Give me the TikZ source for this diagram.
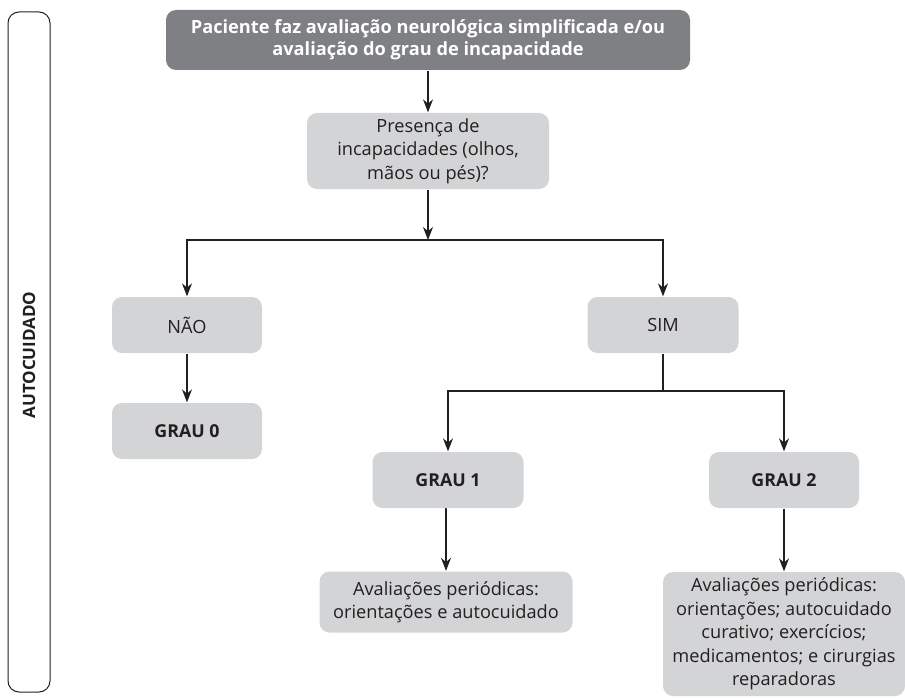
\documentclass[tikz,border=0pt]{standalone}
\usepackage{fontspec}
\setmainfont{Open Sans}
\usetikzlibrary{arrows.meta}
\definecolor{boxgray}{HTML}{D3D4D6}
\definecolor{headgray}{HTML}{7F8083}
\definecolor{ink}{HTML}{231F20}
\begin{document}
\begin{tikzpicture}
  [x=1pt,y=-1pt,line width=1.3pt,draw=ink,>={Stealth[length=13pt,width=10pt]},
   every node/.style={rounded corners=10pt,fill=boxgray,text=ink,align=center,
     inner sep=0pt,font=\fontsize{18.2}{23.5}\selectfont},
   headbox/.style={fill=headgray,text=white,font=\fontsize{18.2}{22}\selectfont\bfseries},
   gradebox/.style={font=\fontsize{17.8}{22}\selectfont\bfseries}]
  \useasboundingbox (0,0) rectangle (905,698);

  \draw[line width=1pt,rounded corners=11pt] (8,12) rectangle (50,692);
  \node[fill=none,rotate=90,font=\fontsize{17}{18}\selectfont\bfseries] (side) at (29,355) {AUTOCUIDADO};

  \node[headbox,minimum width=524pt,minimum height=60pt] (head) at (428,40)
    {Paciente faz avaliação neurológica simplificada e/ou\\avaliação do grau de incapacidade};
  \node[minimum width=242pt,minimum height=76pt] (quest) at (428,151)
    {Presença de\\incapacidades (olhos,\\mãos ou pés)?};
  \node[minimum width=150pt,minimum height=56pt] (nao)   at (187,325) {NÃO};
  \node[minimum width=151pt,minimum height=56pt] (sim)   at (663,325) {SIM};
  \node[gradebox,minimum width=150pt,minimum height=56pt] (grau0) at (187,431) {GRAU 0};
  \node[gradebox,minimum width=151pt,minimum height=56pt] (grau1) at (448,480) {GRAU 1};
  \node[gradebox,minimum width=150pt,minimum height=56pt] (grau2) at (784,480) {GRAU 2};
  \node[minimum width=253pt,minimum height=61pt] (aval1) at (446,602)
    {Avaliações periódicas:\\orientações e autocuidado};
  \node[minimum width=242pt,minimum height=124pt] (aval2) at (784,634)
    {Avaliações periódicas:\\orientações; autocuidado\\curativo; exercícios;\\medicamentos; e cirurgias\\reparadoras};

  \coordinate (split1) at (428,240);
  \coordinate (split2) at (663,391);

  \foreach \from/\to in {head/quest,nao/grau0,grau1/aval1,grau2/aval2}
    \draw[->] (\from) -- (\to |- \from.south) -- (\to);
  \draw[->] (quest) -- (split1);
  \draw (sim) -- (split2);
  \foreach \to in {nao,sim}
    \draw[->] (split1) -| (\to);
  \foreach \to in {grau1,grau2}
    \draw[->] (split2) -| (\to);

\end{tikzpicture}
\end{document}
